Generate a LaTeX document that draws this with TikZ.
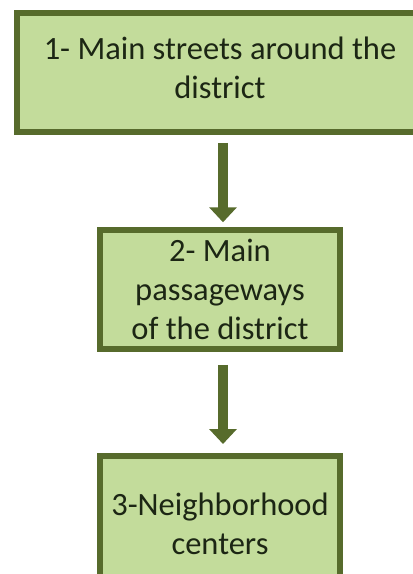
\documentclass[tikz,border=0pt]{standalone}
\usepackage{fontspec}
\setmainfont{Carlito}
\usetikzlibrary{arrows.meta, positioning}
\definecolor{leaf}{HTML}{C3DC9B}
\definecolor{olive}{HTML}{576B2C}
\definecolor{ink}{HTML}{1C2614}
\tikzset{
    stage/.style={draw=olive, fill=leaf, line width=5.5pt, text=ink,
        align=center, inner sep=0pt, minimum height=119pt,
        font=\fontsize{32.5}{39}\selectfont},
    flow/.style={draw=olive, line width=10pt,
        -{Triangle[width=27pt, length=15pt]}, color=olive}
}
\begin{document}
\begin{tikzpicture}[x=1pt, y=-1pt]
    \clip (0,0) rectangle (413,574);
    \fill[white] (0,0) rectangle (413,574);
    % the three levels of the district
    \node[stage, minimum width=406pt, text depth=10pt] (streets) at (220,72.5)
        {1- Main streets around the\\district};
    \node[stage, minimum width=240pt] (passages) at (220,289.5)
        {2- Main\\passageways\\of the district};
    \node[stage, minimum width=240pt, minimum height=136.5pt] (centers) at (220,524)
        {3-Neighborhood\\centers};
    % arrows between levels
    \draw[flow, shorten <=8pt, shorten >=5pt]
        ([xshift=3pt]streets.south) -- ([xshift=3pt]passages.north);
    \draw[flow, shorten <=13pt, shorten >=9pt]
        ([xshift=3pt]passages.south) -- ([xshift=3pt]centers.north);
\end{tikzpicture}
\end{document}
